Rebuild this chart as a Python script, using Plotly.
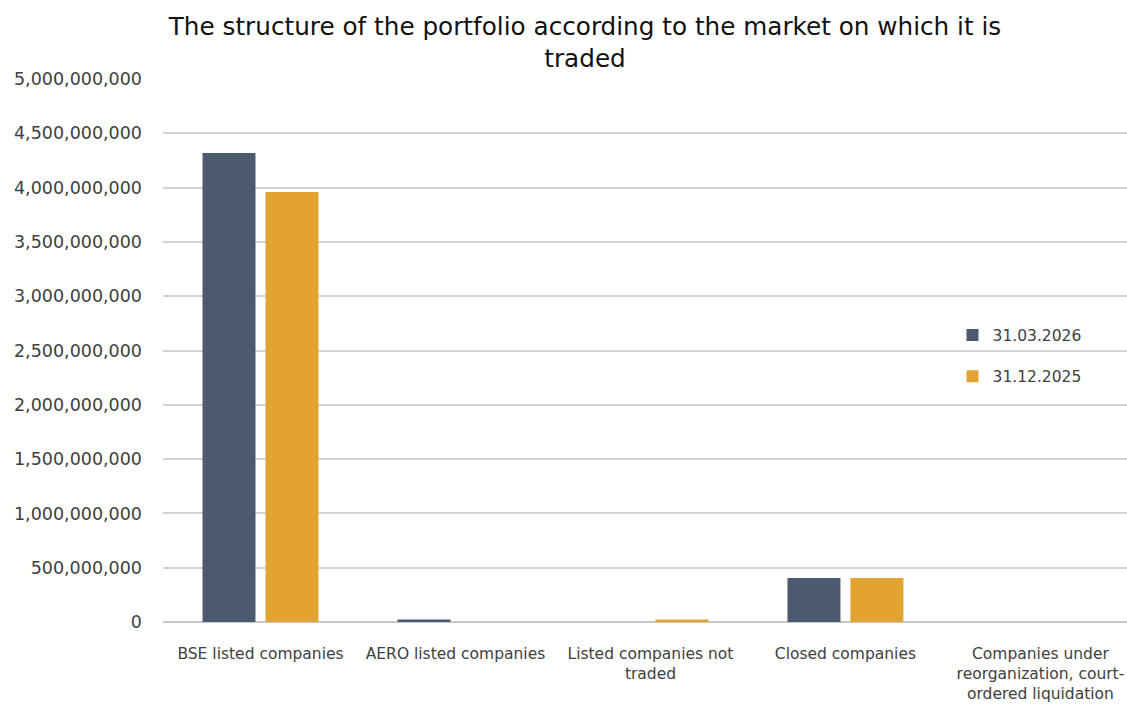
import plotly.graph_objects as go

categories = [
    "BSE listed companies",
    "AERO listed companies",
    "Listed companies not<br>traded",
    "Closed companies",
    "Companies under<br>reorganization, court-<br>ordered liquidation",
]
series_names = ["31.03.2026", "31.12.2025"]
values_2026 = [4318000000, 22000000, 0, 405000000, 0]
values_2025 = [3960000000, 0, 22000000, 405000000, 0]
y_ticks = [0, 500000000, 1000000000, 1500000000, 2000000000, 2500000000,
           3000000000, 3500000000, 4000000000, 4500000000, 5000000000]
colors = ["#4b5a6f", "#e1a331"]

FONT = "'DejaVu Sans', sans-serif"
W, H = 1127, 711

fig = go.Figure()
for i, (name, vals, col) in enumerate(zip(series_names, [values_2026, values_2025], colors)):
    fig.add_trace(go.Bar(name=name, x=categories, y=vals, marker_color=col,
                         marker_line_width=0, legendgroup=f"g{i}"))

fig.update_layout(
    width=W, height=H,
    margin=dict(l=163, r=0, t=79, b=89, autoexpand=False),
    paper_bgcolor="white", plot_bgcolor="white",
    barmode="group", bargap=0.354, bargroupgap=0.159,
    font=dict(family=FONT, size=15, color="#404040"),
    title=dict(text="The structure of the portfolio according to the market on which it is<br>traded",
               x=585 / W, xanchor="center", y=1 - 35 / H, yanchor="middle",
               yref="container", xref="container",
               font=dict(family=FONT, size=24.7, color="#111111")),
    legend=dict(x=0.819, y=0.49, xanchor="left", yanchor="middle",
                bgcolor="rgba(0,0,0,0)", font=dict(size=15.5, color="#404040"),
                tracegroupgap=18, itemwidth=30),
    showlegend=True,
)
fig.update_yaxes(range=[0, 5000000000], tickvals=y_ticks, tickformat=",d",
                 showgrid=True, gridcolor="#d2d2d2", gridwidth=2,
                 zeroline=True, zerolinecolor="#c8c8c8", zerolinewidth=2,
                 showline=False, ticks="", ticklabelstandoff=20,
                 automargin=False,
                 tickfont=dict(size=17.5, color="#404040"))
fig.update_xaxes(showgrid=False, showline=False, ticks="",
                 range=[-0.5, 4.444],
                 ticklabelstandoff=20, automargin=False,
                 tickfont=dict(size=15.5, color="#404040"))

fig.write_html(
    "out.html",
    config={"displayModeBar": False},
    post_script="document.body.style.margin='0';document.body.style.overflow='hidden';",
)
